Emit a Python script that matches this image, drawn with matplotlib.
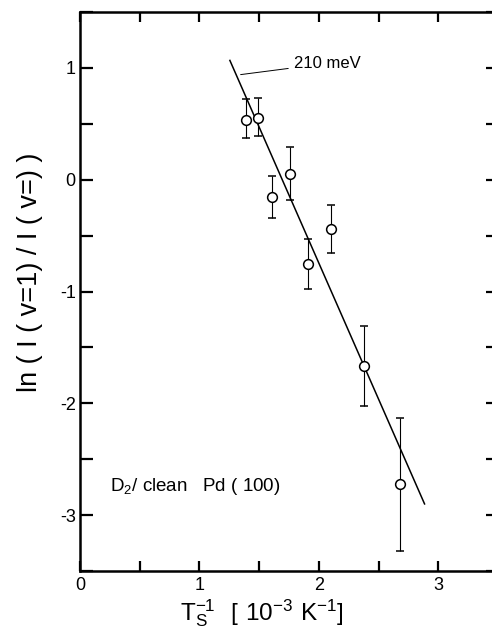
import matplotlib
matplotlib.use("Agg")
import matplotlib.pyplot as plt
from matplotlib.ticker import MultipleLocator
import numpy as np

plt.rcParams['font.family'] = ['Liberation Sans', 'DejaVu Sans']
plt.rcParams['axes.unicode_minus'] = False
plt.rcParams['mathtext.fontset'] = 'custom'
plt.rcParams['mathtext.rm'] = 'Liberation Sans'

# data (x: 1/Ts in 10^-3 K^-1, y: ln ratio)
inv_T = [1.39, 1.49, 1.605, 1.76, 1.91, 2.10, 2.38, 2.68]
ln_ratio = [0.53, 0.555, -0.155, 0.05, -0.755, -0.445, -1.67, -2.72]
err_upper = [0.72, 0.73, 0.03, 0.29, -0.53, -0.23, -1.31, -2.13]
err_lower = [0.37, 0.39, -0.34, -0.18, -0.98, -0.655, -2.025, -3.32]

fit_x = [1.255, 2.885]
fit_y = [1.067, -2.90]

fit_label = "210 meV"
sample_label = r"D$_2$/ clean   Pd ( 100)"

fig = plt.figure(figsize=(4.92, 6.33), dpi=100)
ax = fig.add_axes([80/492, 62/633, 418/492, 559/633])
ax.set_xlim(0, 3.5)
ax.set_ylim(-3.5, 1.5)

y = np.array(ln_ratio)
yerr = [y - np.array(err_lower), np.array(err_upper) - y]
ax.errorbar(inv_T, ln_ratio, yerr=yerr, fmt='o', mfc='white', mec='black',
            ms=7, mew=1.1, ecolor='black', elinewidth=0.8, capsize=3,
            capthick=0.8, zorder=3)
ax.plot(fit_x, fit_y, color='black', lw=1.1, zorder=2)

ax.annotate(fit_label, xy=(1.345, 0.94), xytext=(1.79, 1.04),
            fontsize=12, va='center', ha='left',
            arrowprops=dict(arrowstyle='-', lw=0.7, color='black',
                            shrinkA=2, shrinkB=0))
ax.text(0.25, -2.745, sample_label, fontsize=13.5, va='center', ha='left')

for s in ax.spines.values():
    s.set_linewidth(1.8)

ax.xaxis.set_major_locator(MultipleLocator(1))
ax.xaxis.set_minor_locator(MultipleLocator(0.5))
ax.yaxis.set_major_locator(MultipleLocator(1))
ax.yaxis.set_minor_locator(MultipleLocator(0.5))
ax.tick_params(which='both', direction='in', top=True, right=True, width=1.6)
ax.tick_params(axis='y', which='both', length=9)
ax.tick_params(axis='x', which='both', length=7)
ax.tick_params(axis='both', which='major', labelsize=13)
ax.tick_params(axis='y', pad=3)
ax.tick_params(axis='x', pad=4)

fig.text(262/492, 1 - 613/633, r"$\mathregular{T_S^{-1}\ \ [\ 10^{-3}\ K^{-1}]}$",
         fontsize=17.5, ha='center', va='center')
fig.text(30/492, 1 - 272/633, "ln ( I ( v=1) / I ( v=) )", fontsize=19.5,
         rotation=90, ha='center', va='center')

fig.savefig("out.png", dpi=100)
